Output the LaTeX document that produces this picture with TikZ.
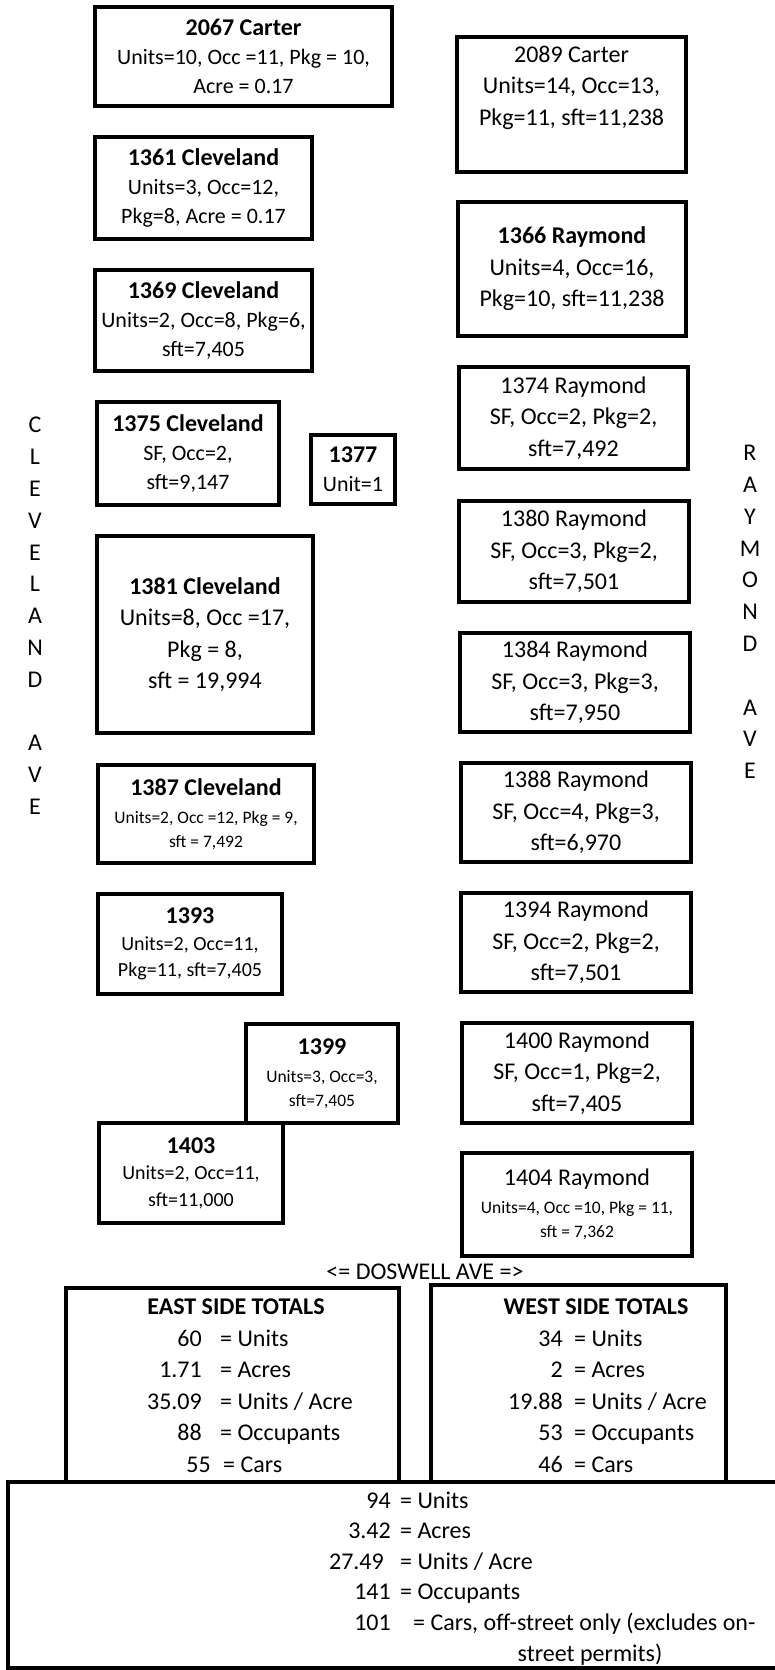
\documentclass[tikz,border=0pt]{standalone}
\usepackage{fontspec}
\setmainfont{Carlito}
\usepackage{tikz}

\newcommand{\lotbig}{\fontsize{24}{31.5}\selectfont}
\newcommand{\lotnorm}{\fontsize{22}{29}\selectfont}
\newcommand{\lotmid}{\fontsize{20}{26.5}\selectfont}
\newcommand{\lotsmall}{\fontsize{17.5}{24}\selectfont}
\newcommand{\lothead}{\bfseries\fontsize{24}{30}\selectfont}

\tikzset{
    lot/.style 2 args={draw, line width=3.3pt, align=center, inner sep=0pt,
        minimum width=#1, minimum height=#2},
    tot/.style={draw, line width=3.3pt},
    street/.style={align=center, font=\lotbig, inner sep=0pt},
    num/.style={anchor=base east, font=\lotbig, inner sep=0pt},
    lbl/.style={anchor=base west, font=\lotbig, inner sep=0pt},
}

\begin{document}
\begin{tikzpicture}[x=1pt, y=-1pt]
    \useasboundingbox (0,0) rectangle (775,1670);

    % Cleveland side
    \node[lot={297pt}{99pt}, font=\lotnorm] (c2067) at (243.5,56.5) {{\lothead 2067 Carter}\\Units=10, Occ =11, Pkg = 10,\\Acre = 0.17};
    \node[lot={217pt}{102pt}, font=\lotnorm] (c1361) at (203.5,188) {{\lothead 1361 Cleveland}\\Units=3, Occ=12,\\Pkg=8, Acre = 0.17};
    \node[lot={217pt}{101pt}, font=\lotnorm] (c1369) at (203.5,320.5) {{\lothead 1369 Cleveland}\\Units=2, Occ=8, Pkg=6,\\sft=7,405};
    \node[lot={182pt}{103pt}, font=\lotnorm] (c1375) at (188,453.5) {{\lothead 1375 Cleveland}\\SF, Occ=2,\\sft=9,147};
    \node[lot={84pt}{69pt}, font=\lotnorm] (c1377) at (353,469.5) {{\lothead 1377}\\Unit=1};
    \node[lot={216pt}{197pt}, font=\lotbig] (c1381) at (205,634.5) {{\lothead 1381 Cleveland}\\Units=8, Occ =17,\\Pkg = 8,\\sft = 19,994};
    \node[lot={216pt}{98pt}, font=\lotsmall] (c1387) at (206,814) {{\lothead 1387 Cleveland}\\[4pt]Units=2, Occ =12, Pkg = 9,\\sft = 7,492};
    \node[lot={184pt}{100pt}, font=\lotmid] (c1393) at (190,944) {{\lothead 1393}\\Units=2, Occ=11,\\Pkg=11, sft=7,405};
    \node[lot={152pt}{99pt}, font=\lotsmall] (c1399) at (322,1073.5) {{\lothead 1399}\\[4pt]Units=3, Occ=3,\\sft=7,405};
    \node[lot={184pt}{100pt}, font=\lotmid] (c1403) at (191,1173) {{\lothead 1403}\\Units=2, Occ=11,\\sft=11,000};

    % Raymond side
    \node[lot={229pt}{135pt}, font=\lotbig] (r2089) at (571.5,104.5) {2089 Carter\\Units=14, Occ=13,\\Pkg=11, sft=11,238\\\rule[-6.5pt]{0pt}{6.5pt}};
    \node[lot={228pt}{134pt}, font=\lotbig] (r1366) at (572,269) {{\lothead 1366 Raymond}\\Units=4, Occ=16,\\Pkg=10, sft=11,238};
    \node[lot={229pt}{102pt}, font=\lotbig] (r1374) at (573.5,418) {1374 Raymond\\SF, Occ=2, Pkg=2,\\sft=7,492};
    \node[lot={230pt}{101pt}, font=\lotbig] (r1380) at (574,551.5) {1380 Raymond\\SF, Occ=3, Pkg=2,\\sft=7,501};
    \node[lot={230pt}{99pt}, font=\lotbig] (r1384) at (575,682.5) {1384 Raymond\\SF, Occ=3, Pkg=3,\\sft=7,950};
    \node[lot={230pt}{99pt}, font=\lotbig] (r1388) at (576,812.5) {1388 Raymond\\SF, Occ=4, Pkg=3,\\sft=6,970};
    \node[lot={230pt}{99pt}, font=\lotbig] (r1394) at (576,942.5) {1394 Raymond\\SF, Occ=2, Pkg=2,\\sft=7,501};
    \node[lot={230pt}{100pt}, font=\lotbig] (r1400) at (577,1073) {1400 Raymond\\SF, Occ=1, Pkg=2,\\sft=7,405};
    \node[lot={230pt}{103pt}, font=\lotsmall] (r1404) at (577,1204.5) {{\lotbig 1404 Raymond}\\[4pt]Units=4, Occ =10, Pkg = 11,\\sft = 7,362};

    % street names
    \node[street, font=\fontsize{24}{31.8}\selectfont] (cleve) at (35,616) {C\\L\\E\\V\\E\\L\\A\\N\\D\\[31.8pt]A\\V\\E};
    \node[street, font=\fontsize{24}{31.8}\selectfont] (raym) at (750,612) {R\\A\\Y\\M\\O\\N\\D\\[31.8pt]A\\V\\E};
    \node[street] (dosw) at (425,1272) {<= DOSWELL AVE =>};

    % totals
    \node[tot, minimum width=333pt, minimum height=194pt] (east) at (232.5,1385) {};
    \node[tot, minimum width=295pt, minimum height=197pt] (west) at (578.5,1383.5) {};
    \draw[tot] (775,1482) -| (8,1668) -- (775,1668);

    \node[font=\lothead, inner sep=0pt] (etitle) at (236,1307) {EAST SIDE TOTALS};
    \node[num] (e1n) at (202,1346) {60};     \node[lbl] (e1t) at (220,1346) {= Units};
    \node[num] (e2n) at (202,1377.5) {1.71}; \node[lbl] (e2t) at (220,1377.5) {= Acres};
    \node[num] (e3n) at (202,1409) {35.09};  \node[lbl] (e3t) at (220,1409) {= Units / Acre};
    \node[num] (e4n) at (202,1440.5) {88};   \node[lbl] (e4t) at (220,1440.5) {= Occupants};
    \node[num] (e5n) at (211,1472) {55};     \node[lbl] (e5t) at (223,1472) {= Cars};

    \node[font=\lothead, inner sep=0pt] (wtitle) at (596,1307) {WEST SIDE TOTALS};
    \node[num] (w1n) at (563,1346) {34};     \node[lbl] (w1t) at (574,1346) {= Units};
    \node[num] (w2n) at (563,1377.5) {2};    \node[lbl] (w2t) at (574,1377.5) {= Acres};
    \node[num] (w3n) at (563,1409) {19.88};  \node[lbl] (w3t) at (574,1409) {= Units / Acre};
    \node[num] (w4n) at (563,1440.5) {53};   \node[lbl] (w4t) at (574,1440.5) {= Occupants};
    \node[num] (w5n) at (563,1472) {46};     \node[lbl] (w5t) at (574,1472) {= Cars};

    \node[num] (a1n) at (391,1508) {94};     \node[lbl] (a1t) at (400,1508) {= Units};
    \node[num] (a2n) at (391,1538.6) {3.42}; \node[lbl] (a2t) at (400,1538.6) {= Acres};
    \node[num] (a3n) at (384,1569.2) {27.49};\node[lbl] (a3t) at (400,1569.2) {= Units / Acre};
    \node[num] (a4n) at (391,1599.8) {141};  \node[lbl] (a4t) at (400,1599.8) {= Occupants};
    \node[num] (a5n) at (391,1630.4) {101};  \node[lbl] (a5t) at (413,1630.4) {= Cars, off-street only (excludes on-};
    \node[font=\lotbig, inner sep=0pt, anchor=base] (a6t) at (590,1661) {street permits)};
\end{tikzpicture}
\end{document}
